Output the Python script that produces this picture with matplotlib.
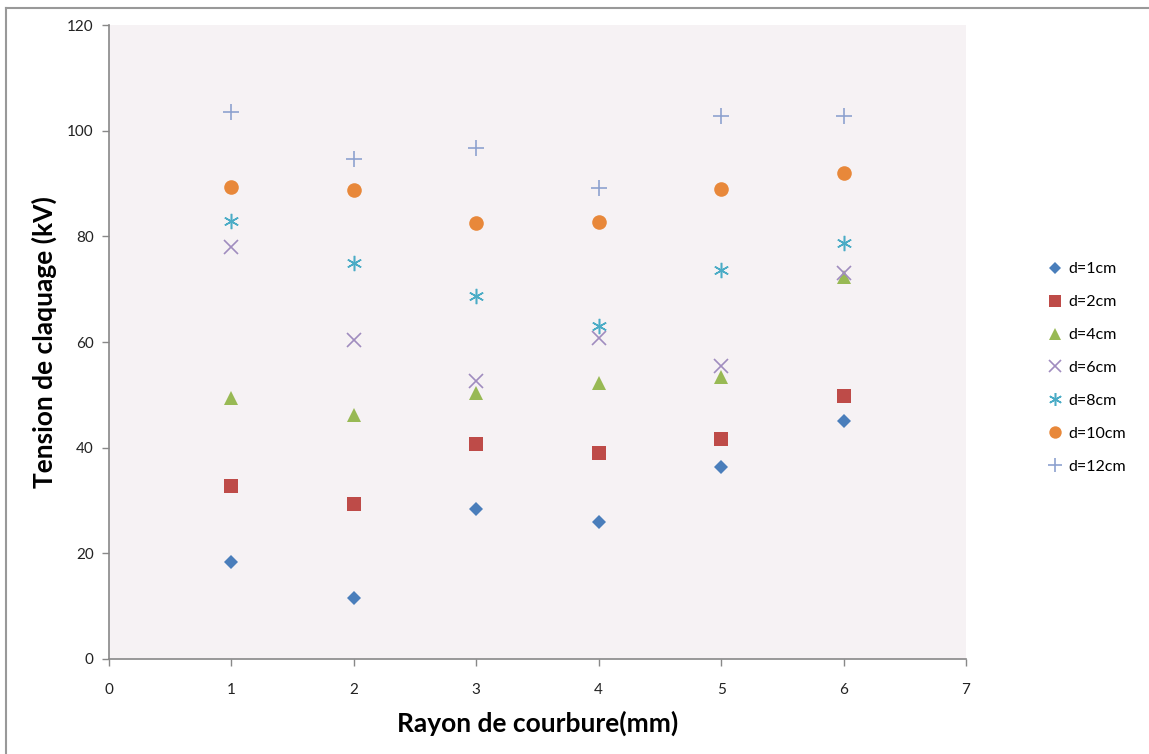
import matplotlib
matplotlib.use("Agg")
import matplotlib.pyplot as plt
from matplotlib.lines import Line2D

plt.rcParams['font.family'] = ['Lato', 'DejaVu Sans']

rayon = [1, 2, 3, 4, 5, 6]

d1 = [18.3, 11.5, 28.3, 26.0, 36.3, 45.1]
d2 = [32.7, 29.3, 40.7, 39.0, 41.6, 49.8]
d4 = [49.4, 46.1, 50.4, 52.2, 53.3, 72.3]
d6 = [78.0, 60.3, 52.6, 60.7, 55.5, 73.1]
d8 = [82.9, 75.0, 68.7, 63.0, 73.6, 78.7]
d10 = [89.3, 88.8, 82.5, 82.7, 89.0, 92.0]
d12 = [103.5, 94.6, 96.7, 89.2, 102.7, 102.7]

labels = ['d=1cm', 'd=2cm', 'd=4cm', 'd=6cm', 'd=8cm', 'd=10cm', 'd=12cm']
series = [d1, d2, d4, d6, d8, d10, d12]

styles = [
    dict(marker='D', color='#4a7ebb', ms=7.5, mew=0),
    dict(marker='s', color='#be4b48', ms=10, mew=0),
    dict(marker='^', color='#98b954', ms=10, mew=0),
    dict(marker='x', color='#a08cbf', ms=10, mew=1.2),
    dict(marker=(6, 2, 0), color='#4bacc6', ms=11, mew=1.1),
    dict(marker='o', color='#e8883a', ms=10.5, mew=0),
    dict(marker='+', color='#8ea2cf', ms=12, mew=1.2),
]

fig = plt.figure(figsize=(11.49, 7.54), dpi=100)
ax = fig.add_axes([0.0949, 0.126, 0.7458, 0.8408])
ax.set_facecolor('#f6f2f4')

for vals, lab, st in zip(series, labels, styles):
    ax.plot(rayon, vals, linestyle='none', marker=st['marker'],
            color=st['color'], markersize=st['ms'], markeredgewidth=st['mew'],
            label=lab)

ax.set_xlim(0, 7)
ax.set_ylim(0, 120)
ax.set_xticks(range(0, 8))
ax.set_yticks(range(0, 121, 20))
for s in ['top', 'right']:
    ax.spines[s].set_visible(False)
for s in ['left', 'bottom']:
    ax.spines[s].set_color('#888888')
    ax.spines[s].set_linewidth(1.2)
ax.tick_params(axis='both', colors='#888888', length=5, width=1, labelsize=11,
               labelcolor='#222222', pad=12)
ax.tick_params(axis='y', direction='out', pad=6)

ax.set_xlabel('Rayon de courbure(mm)', fontsize=19, fontweight='bold', labelpad=10)
ax.set_ylabel('Tension de claquage (kV)', fontsize=19, fontweight='bold', labelpad=7)

leg_handles = [Line2D([], [], linestyle='none', marker=st['marker'], color=st['color'],
                      markersize=st['ms'] * 0.85, markeredgewidth=st['mew'])
               for st in styles]
fig.legend(leg_handles, labels, loc='center left', bbox_to_anchor=(0.9, 0.512),
           frameon=False, fontsize=11.5, labelspacing=1.17, handlelength=0.8,
           handletextpad=0.45)

# outer frame lines along the top and left edges
fig.add_artist(Line2D([0.0052, 1.0], [0.9894, 0.9894], transform=fig.transFigure,
                      color='#999999', linewidth=1.5))
fig.add_artist(Line2D([0.0052, 0.0052], [0.0, 0.9894], transform=fig.transFigure,
                      color='#999999', linewidth=1.5))

fig.savefig('out.png', dpi=100)
